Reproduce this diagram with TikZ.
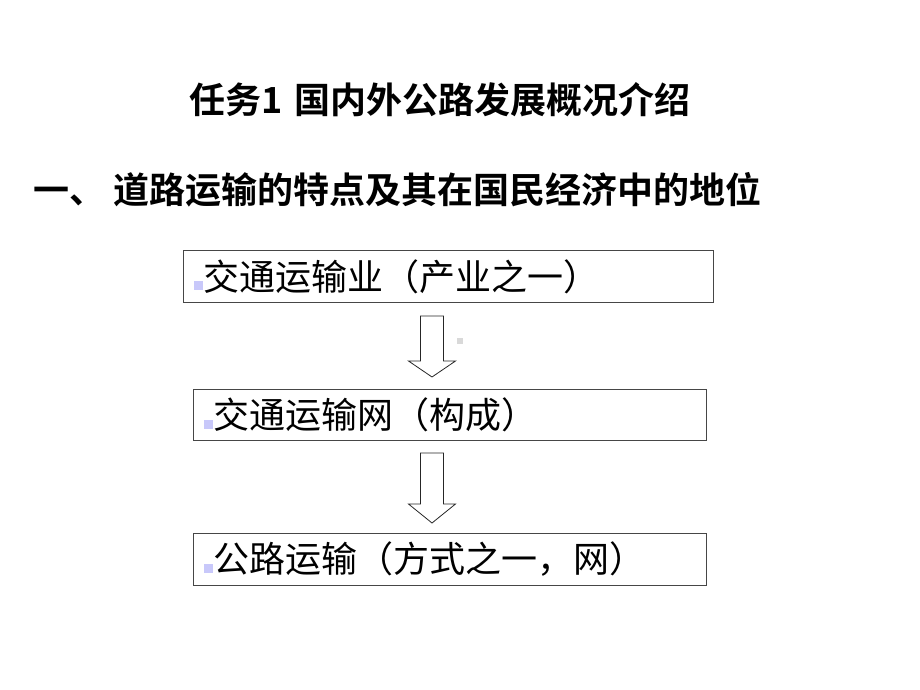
\documentclass[tikz,border=0pt]{standalone}
\usepackage{fontspec}
\setmainfont{Noto Sans CJK SC}
\newfontfamily\cjkbold[BoldFont={* Bold}]{Noto Sans CJK SC}
\definecolor{bulletcol}{RGB}{200,200,250}
\definecolor{framecol}{RGB}{70,70,70}
\tikzset{
  titletext/.style={font=\cjkbold\bfseries\fontsize{36}{42}\selectfont, inner sep=0pt},
  headtext/.style={font=\cjkbold\bfseries\fontsize{36}{42}\selectfont, inner sep=0pt, anchor=west},
  itembox/.style={draw=framecol, line width=1pt, anchor=north west, align=left,
    inner xsep=10pt, inner ysep=0pt, font=\fontsize{36}{41}\selectfont},
  arrowline/.style={draw=black!85, line width=0.8pt, fill=white},
}
\newcommand\bulletbox{\textcolor{bulletcol}{\rule{9pt}{9pt}}\hspace{1pt}}
% block arrow: start point, shaft length, head length
\newcommand\blockarrow[3]{\draw[arrowline] (#1) ++(-11.5,0) -- ++(0,#2) -- ++(-12,0)
  -- ++(23.5,#3) -- ++(23.5,-#3) -- ++(-12,0) -- ++(0,-#2) -- cycle;}
\begin{document}
\begin{tikzpicture}[x=1pt,y=-1pt]
  \useasboundingbox (0,0) rectangle (920,690);
  \node[titletext] (title) at (440,100) {任务1\hspace{12pt}国内外公路发展概况介绍};
  \node[headtext] (head) at (33,190) {一、\hspace{8pt}道路运输的特点及其在国民经济中的地位};

  \node[itembox, text width=510pt, minimum height=52pt] (industry) at (183,250)
    {\bulletbox 交通运输业（产业之一）};
  \node[itembox, text width=493pt, minimum height=51pt] (network) at (193,389)
    {\bulletbox 交通运输网（构成）};
  \node[itembox, text width=493pt, minimum height=52pt] (road) at (193,533)
    {\bulletbox 公路运输（方式之一，网）};

  \coordinate (arr1) at (432,316);
  \coordinate (arr2) at (432,453);
  \blockarrow{arr1}{45}{16}
  \blockarrow{arr2}{51}{19}
  \fill[black!15] (457,338) rectangle (463,344);
\end{tikzpicture}
\end{document}
